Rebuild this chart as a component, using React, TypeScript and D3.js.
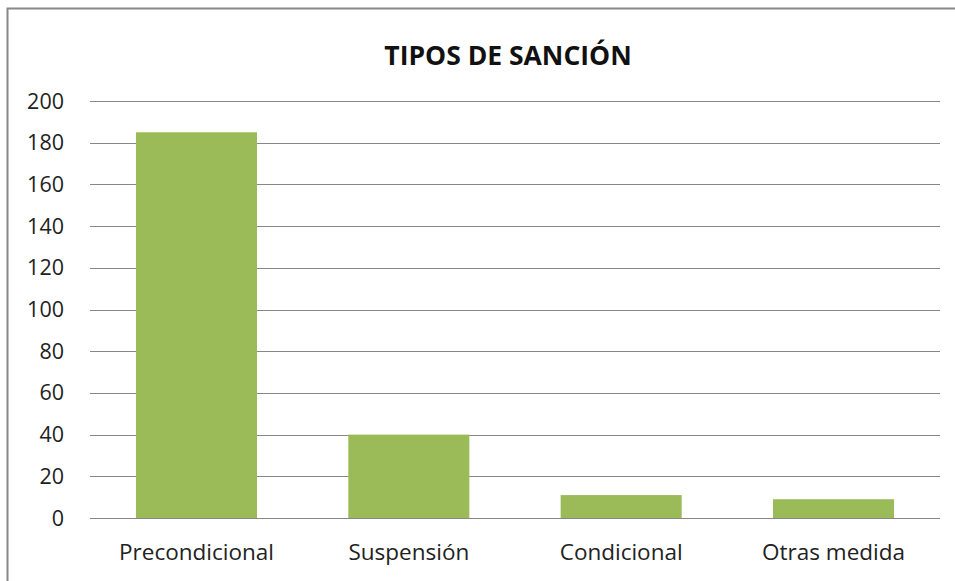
import React, { useEffect, useRef } from "react";
import * as d3 from "d3";

const categories = ["Precondicional", "Suspensión", "Condicional", "Otras medida"];
const values = [185, 40, 11, 9];
const yTicks = [0, 20, 40, 60, 80, 100, 120, 140, 160, 180, 200];
const title = "TIPOS DE SANCIÓN";

const App = () => {
    const ref = useRef<SVGSVGElement | null>(null);

    useEffect(() => {
        const svg = d3.select(ref.current);
        svg.selectAll("*").remove();

        const font = "'Open Sans', Lato, sans-serif";
        const left = 92, right = 940, top = 101, bottom = 518;

        // outer frame
        svg.append("rect")
            .attr("x", 7.5).attr("y", 8.5)
            .attr("width", 1000).attr("height", 700)
            .attr("fill", "white")
            .attr("stroke", "#888888")
            .attr("stroke-width", 2);

        const x = d3.scaleBand()
            .domain(categories)
            .range([left, 938])
            .paddingInner(0.43)
            .paddingOuter(0.207);

        const y = d3.scaleLinear().domain([0, 200]).range([bottom, top]);

        // gridlines
        svg.append("g")
            .selectAll("line")
            .data(yTicks)
            .join("line")
            .attr("x1", left - 2)
            .attr("x2", right)
            .attr("y1", d => Math.round(y(d)) + 0.5)
            .attr("y2", d => Math.round(y(d)) + 0.5)
            .attr("stroke", "#878787")
            .attr("stroke-width", 1);

        // y labels
        svg.append("g")
            .selectAll("text")
            .data(yTicks)
            .join("text")
            .attr("x", 64)
            .attr("y", d => y(d))
            .attr("dy", "0.35em")
            .attr("text-anchor", "end")
            .attr("font-family", font)
            .attr("font-size", 21.5)
            .attr("fill", "#222")
            .text(d => d);

        // bars
        svg.append("g")
            .selectAll("rect")
            .data(values)
            .join("rect")
            .attr("x", (d, i) => x(categories[i])!)
            .attr("y", d => y(d))
            .attr("width", x.bandwidth())
            .attr("height", d => y(0) - y(d))
            .attr("fill", "#9BBB59");

        // x labels
        svg.append("g")
            .selectAll("text")
            .data(categories)
            .join("text")
            .attr("x", d => x(d)! + x.bandwidth() / 2)
            .attr("y", 560)
            .attr("text-anchor", "middle")
            .attr("font-family", font)
            .attr("font-size", 22.5)
            .attr("fill", "#222")
            .text(d => d);

        // title
        svg.append("text")
            .attr("x", 508)
            .attr("y", 65)
            .attr("text-anchor", "middle")
            .attr("font-family", font)
            .attr("font-size", 26.5)
            .attr("font-weight", "bold")
            .attr("fill", "#111")
            .text(title);
    }, []);

    return (
        <svg
            ref={ref}
            width={955}
            height={581}
            style={{ position: "absolute", left: 0, top: 0, display: "block" }}
        />
    );
};

export default App;
